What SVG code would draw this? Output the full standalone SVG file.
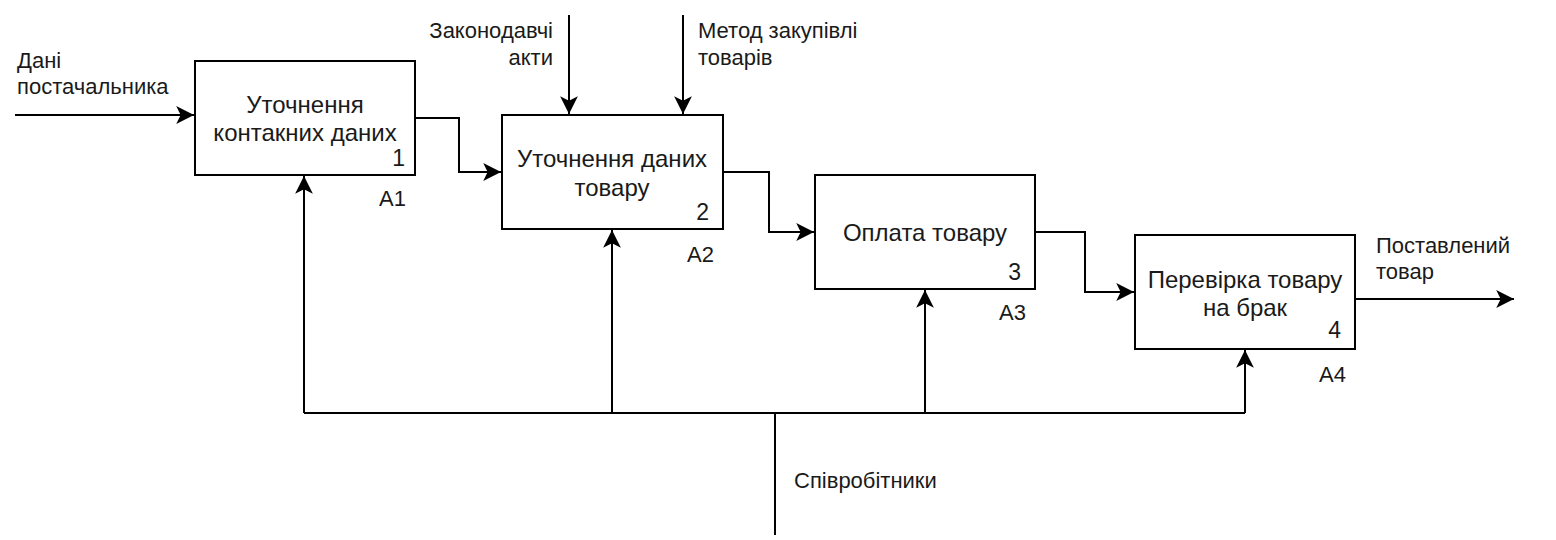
<svg xmlns="http://www.w3.org/2000/svg" width="1556" height="540" viewBox="0 0 1556 540">
<defs>
<style>
text{font-family:"Liberation Sans",Arial,Helvetica,sans-serif;font-size:22px;fill:#1a1a1a}
.c{text-anchor:middle;font-size:24px}
.e{text-anchor:end}
.n{text-anchor:end;font-size:23px}
.box{fill:#ffffff;stroke:#000000;stroke-width:2}
.ln{fill:none;stroke:#000000;stroke-width:2}
</style>
<marker id="arr" markerUnits="userSpaceOnUse" markerWidth="20" markerHeight="20" viewBox="-17 -9 18 18" refX="0" refY="0" orient="auto">
<path d="M0,0 L-16,-8 L-12,0 L-16,8 Z" fill="#000"/>
</marker>
</defs>
<rect width="1556" height="540" fill="#ffffff"/>
<g id="connectors">
<path class="ln" d="M15,115 H194" marker-end="url(#arr)"/>
<path class="ln" d="M415,118 H459 V172 H501" marker-end="url(#arr)"/>
<path class="ln" d="M723,172 H769 V232 H814" marker-end="url(#arr)"/>
<path class="ln" d="M1035,232 H1085 V292 H1134" marker-end="url(#arr)"/>
<path class="ln" d="M1355,299 H1514" marker-end="url(#arr)"/>
<path class="ln" d="M569,15 V114" marker-end="url(#arr)"/>
<path class="ln" d="M683,15 V114" marker-end="url(#arr)"/>
<path class="ln" d="M304,413 H1245"/>
<path class="ln" d="M775,413 V535"/>
<path class="ln" d="M304,413 V176" marker-end="url(#arr)"/>
<path class="ln" d="M612,413 V230" marker-end="url(#arr)"/>
<path class="ln" d="M925,413 V290" marker-end="url(#arr)"/>
<path class="ln" d="M1245,413 V350" marker-end="url(#arr)"/>
<text x="17" y="68">Дані</text>
<text x="17" y="94">постачальника</text>
<text class="e" x="553" y="38">Законодавчі</text>
<text class="e" x="553" y="65">акти</text>
<text x="698" y="38">Метод закупівлі</text>
<text x="698" y="65">товарів</text>
<text x="1376" y="253">Поставлений</text>
<text x="1376" y="279">товар</text>
<text x="794" y="488">Співробітники</text>
</g>
<g id="node-a1">
<rect class="box" x="195" y="61" width="220" height="114"/>
<text class="c" x="305" y="113">Уточнення</text>
<text class="c" x="305" y="141">контакних даних</text>
<text class="n" x="405" y="166">1</text>
<text x="379" y="206">A1</text>
</g>
<g id="node-a2">
<rect class="box" x="502" y="115" width="221" height="114"/>
<text class="c" x="612" y="167">Уточнення даних</text>
<text class="c" x="612" y="196">товару</text>
<text class="n" x="709" y="220">2</text>
<text x="687" y="262">A2</text>
</g>
<g id="node-a3">
<rect class="box" x="815" y="175" width="220" height="114"/>
<text class="c" x="925" y="241">Оплата товару</text>
<text class="n" x="1021" y="280">3</text>
<text x="999" y="320">A3</text>
</g>
<g id="node-a4">
<rect class="box" x="1135" y="235" width="220" height="114"/>
<text class="c" x="1245" y="288">Перевірка товару</text>
<text class="c" x="1245" y="316">на брак</text>
<text class="n" x="1341" y="338">4</text>
<text x="1319" y="382">A4</text>
</g>
</svg>
